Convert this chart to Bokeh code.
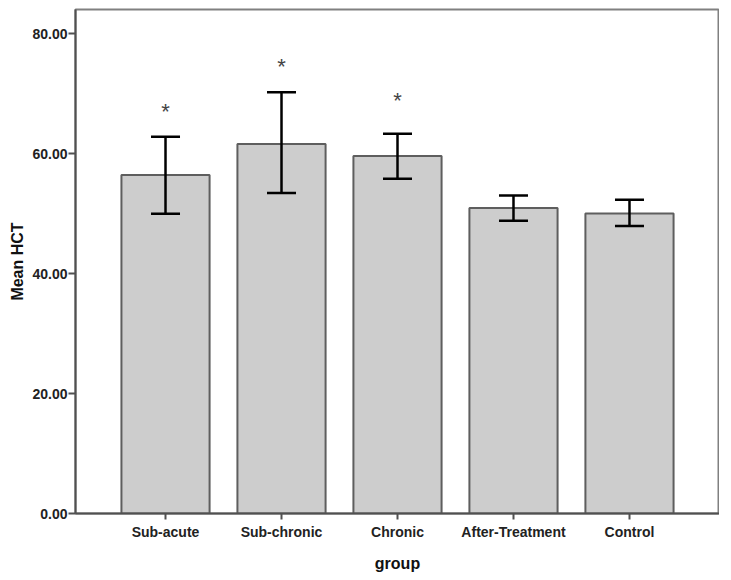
from bokeh.plotting import figure
from bokeh.models import ColumnDataSource, Range1d, FactorRange, FixedTicker, NumeralTickFormatter, Whisker, TeeHead
from bokeh.core.properties import value
from bokeh.embed import file_html
from bokeh.resources import INLINE

groups = ["Sub-acute", "Sub-chronic", "Chronic", "After-Treatment", "Control"]
mean_hct = [56.4, 61.6, 59.6, 50.9, 50.0]
upper_ci = [62.8, 70.2, 63.3, 53.0, 52.3]
lower_ci = [49.95, 53.4, 55.8, 48.8, 47.9]
star_groups = ["Sub-acute", "Sub-chronic", "Chronic"]
star_level = [67.5, 75.0, 69.3]
y_ticks = [0, 20, 40, 60, 80]

FONT = "Liberation Sans"

src = ColumnDataSource(dict(group=groups, mean=mean_hct, upper=upper_ci, lower=lower_ci))

p = figure(x_range=FactorRange(factors=groups, range_padding=0.276, range_padding_units="absolute"),
           y_range=Range1d(0, 84),
           frame_width=644, frame_height=504, output_backend="svg", toolbar_location=None,
           min_border_left=75, min_border_top=9, min_border_right=0, min_border_bottom=50)

p.vbar(x="group", top="mean", width=0.76, source=src,
       fill_color="#cdcdcd", line_color="#5e5e5e", line_width=2)

w = Whisker(base="group", upper="upper", lower="lower", source=src,
            line_color="black", line_width=2.5, level="overlay",
            upper_head=TeeHead(size=29, line_color="black", line_width=2.5),
            lower_head=TeeHead(size=29, line_color="black", line_width=2.5))
p.add_layout(w)

p.text(x=star_groups, y=star_level, text=["*"] * len(star_groups), text_align="center",
       text_baseline="middle", y_offset=3,
       text_font=value(FONT), text_font_size="22px", text_color="#444444")

p.xgrid.visible = False
p.ygrid.visible = False
p.outline_line_color = "#808080"
p.outline_line_width = 2
p.background_fill_color = "white"
p.border_fill_color = "white"

p.yaxis.ticker = FixedTicker(ticks=y_ticks)
p.yaxis.formatter = NumeralTickFormatter(format="0.00")
p.yaxis.minor_tick_line_color = None
p.yaxis.major_tick_in = 0
p.yaxis.major_tick_out = 7
p.yaxis.major_label_standoff = 1
p.yaxis.axis_label = "Mean HCT"
p.yaxis.axis_label_standoff = 3

p.xaxis.major_tick_in = 0
p.xaxis.major_tick_out = 6
p.xaxis.major_label_standoff = 4
p.xaxis.axis_label = "group"
p.xaxis.axis_label_standoff = 12

for ax in (p.xaxis[0], p.yaxis[0]):
    ax.axis_line_color = "#505050"
    ax.axis_line_width = 2
    ax.major_tick_line_color = "#505050"
    ax.major_tick_line_width = 2
    ax.major_label_text_font = FONT
    ax.major_label_text_font_style = "bold"
    ax.major_label_text_font_size = "14px"
    ax.major_label_text_color = "#222222"
    ax.axis_label_text_font = FONT
    ax.axis_label_text_font_style = "bold"
    ax.axis_label_text_font_size = "16px"
    ax.axis_label_text_color = "#111111"

open("out.html", "w").write(file_html(p, INLINE))
